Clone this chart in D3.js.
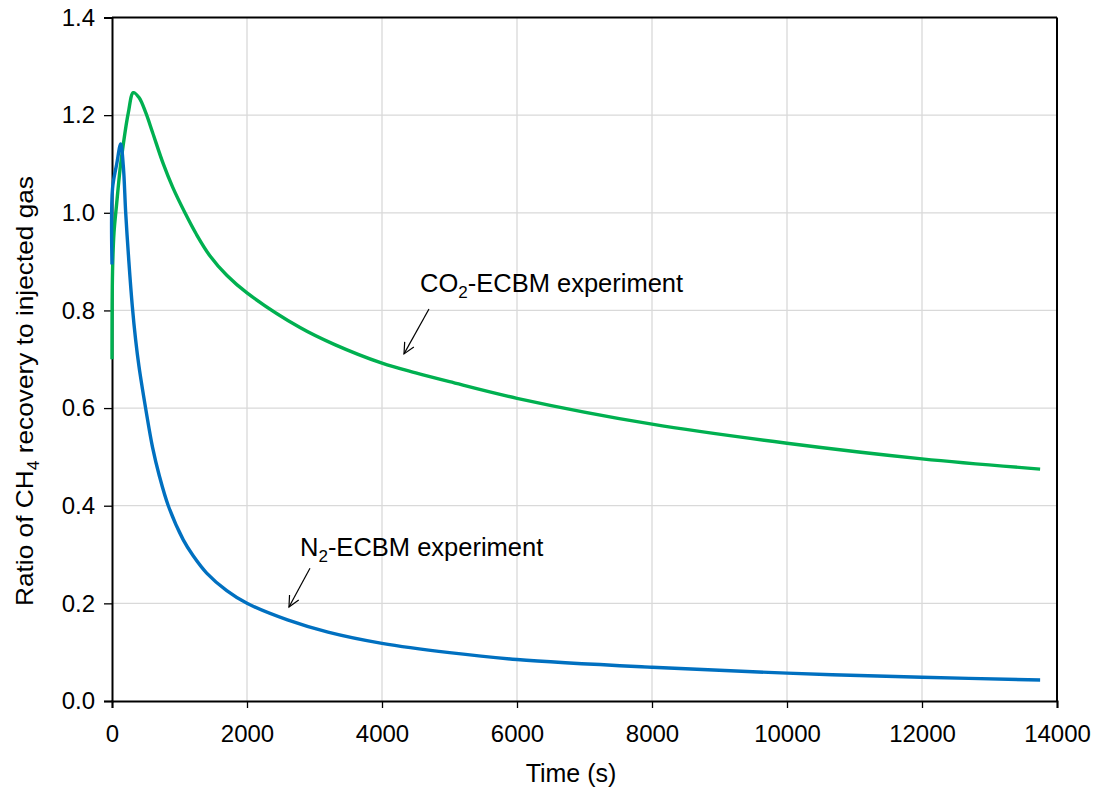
<!DOCTYPE html>
<html>
<head>
<meta charset="utf-8">
<script src="https://cdn.jsdelivr.net/npm/d3@7"></script>
<style>
  body { margin: 0; background: #fff; }
  text { font-family: "Liberation Sans", Arial, sans-serif; fill: #000; }
</style>
</head>
<body>
<div id="chart"></div>
<script>
// CO2-ECBM experiment (green)
var co2Time  = [0, 8, 30, 70, 120, 163, 242, 316, 400, 500, 600, 760, 900, 1081, 1250, 1450, 1700, 2000, 2785, 3300, 4000, 4500, 5000, 6000, 8000, 10000, 12000, 13750];
var co2Ratio = [0.70, 0.88, 0.96, 1.02, 1.09, 1.136, 1.205, 1.246, 1.236, 1.205, 1.165, 1.10, 1.052, 1.0, 0.956, 0.912, 0.872, 0.836, 0.765, 0.73, 0.692, 0.672, 0.654, 0.620, 0.567, 0.528, 0.496, 0.475];

// N2-ECBM experiment (blue)
var n2Time  = [0, 8, 70, 129, 168, 203, 250, 300, 350, 400, 450, 500, 600, 700, 834, 1056, 1200, 1403, 1700, 2000, 2600, 3200, 4000, 5000, 6000, 8000, 10000, 12000, 13750];
var n2Ratio = [0.894, 1.05, 1.10, 1.141, 1.095, 1.0, 0.90, 0.81, 0.74, 0.685, 0.64, 0.598, 0.52, 0.462, 0.40, 0.33, 0.298, 0.262, 0.226, 0.20, 0.166, 0.141, 0.118, 0.099, 0.085, 0.069, 0.057, 0.0486, 0.043];

var xTicks = [0, 2000, 4000, 6000, 8000, 10000, 12000, 14000];
var yTicks = [0, 0.2, 0.4, 0.6, 0.8, 1.0, 1.2, 1.4];

var width = 1099, height = 792;
var margin = {t:17.5, r:42, b:91, l:112};

var svg = d3.select("#chart").append("svg")
    .attr("width", width)
    .attr("height", height);

var x = d3.scaleLinear().domain([0, 14000]).range([margin.l, width - margin.r]);
var y = d3.scaleLinear().domain([0, 1.4]).range([height - margin.b, margin.t]);

// grid
svg.append("g").selectAll("line").data(xTicks.slice(1, -1)).enter().append("line")
    .attr("x1", function(d){ return x(d); }).attr("x2", function(d){ return x(d); })
    .attr("y1", y(0)).attr("y2", y(1.4))
    .attr("stroke", "#d9d9d9").attr("stroke-width", 1.3);
svg.append("g").selectAll("line").data(yTicks.slice(1, -1)).enter().append("line")
    .attr("x1", x(0)).attr("x2", x(14000))
    .attr("y1", function(d){ return y(d); }).attr("y2", function(d){ return y(d); })
    .attr("stroke", "#d9d9d9").attr("stroke-width", 1.3);

// axes
var xAxis = svg.append("g")
    .attr("transform", "translate(0," + y(0) + ")")
    .call(d3.axisBottom(x).tickValues(xTicks).tickSize(7).tickPadding(17).tickFormat(d3.format("d")));
var yAxis = svg.append("g")
    .attr("transform", "translate(" + x(0) + ",0)")
    .call(d3.axisLeft(y).tickValues(yTicks).tickSize(8).tickPadding(9).tickFormat(d3.format(".1f")));

[xAxis, yAxis].forEach(function(a){
    a.select(".domain").attr("stroke", "#000").attr("stroke-width", 2);
    a.selectAll(".tick line").attr("stroke", "#000").attr("stroke-width", 1.3);
    a.selectAll(".tick text").style("font-size", "24px").style("font-family", "Liberation Sans, Arial, sans-serif");
});

// frame top & right
svg.append("line").attr("x1", x(0)).attr("x2", x(14000)).attr("y1", y(1.4)).attr("y2", y(1.4))
    .attr("stroke", "#000").attr("stroke-width", 2);
svg.append("line").attr("x1", x(14000)).attr("x2", x(14000)).attr("y1", y(1.4)).attr("y2", y(0))
    .attr("stroke", "#000").attr("stroke-width", 2);

// lines
var line = d3.line()
    .x(function(d){ return x(d[0]); })
    .y(function(d){ return y(d[1]); })
    .curve(d3.curveCatmullRom.alpha(0.5));

svg.append("path").datum(d3.zip(co2Time, co2Ratio))
    .attr("d", line).attr("fill", "none")
    .attr("stroke", "#00B050").attr("stroke-width", 3.4);
svg.append("path").datum(d3.zip(n2Time, n2Ratio))
    .attr("d", line).attr("fill", "none")
    .attr("stroke", "#0070C0").attr("stroke-width", 3.4);

// axis titles
svg.append("text")
    .attr("x", 571).attr("y", 782)
    .attr("text-anchor", "middle").style("font-size", "25px")
    .text("Time (s)");

var yt = svg.append("text")
    .attr("transform", "translate(33,391) rotate(-90)")
    .attr("text-anchor", "middle").style("font-size", "24px")
    .attr("textLength", 430).attr("lengthAdjust", "spacingAndGlyphs");
yt.append("tspan").text("Ratio of CH");
yt.append("tspan").attr("dy", 6).style("font-size", "16px").text("4");
yt.append("tspan").attr("dy", -6).text(" recovery to injected gas");

// annotations
var notes = [
    {label: "CO", sub: "2", rest: "-ECBM experiment", tx: 4563, ty: 0.838, ax: 4696, ay: 0.803, bx: 4326, by: 0.711},
    {label: "N",  sub: "2", rest: "-ECBM experiment", tx: 2785, ty: 0.297, ax: 2933, ay: 0.272, bx: 2622, by: 0.1925}
];

notes.forEach(function(n){
    var t = svg.append("text").attr("x", x(n.tx)).attr("y", y(n.ty)).style("font-size", "25.5px");
    t.append("tspan").text(n.label);
    t.append("tspan").attr("dy", 6).style("font-size", "17px").text(n.sub);
    t.append("tspan").attr("dy", -6).text(n.rest);

    var x1 = x(n.ax), y1 = y(n.ay), x2 = x(n.bx), y2 = y(n.by);
    svg.append("line").attr("x1", x1).attr("y1", y1).attr("x2", x2).attr("y2", y2)
        .attr("stroke", "#000").attr("stroke-width", 1.2);
    var ang = Math.atan2(y2 - y1, x2 - x1), len = 12, spread = 0.45;
    var pts = [
        [x2 - len * Math.cos(ang - spread), y2 - len * Math.sin(ang - spread)],
        [x2, y2],
        [x2 - len * Math.cos(ang + spread), y2 - len * Math.sin(ang + spread)]
    ];
    svg.append("path").attr("d", d3.line()(pts))
        .attr("fill", "none").attr("stroke", "#000").attr("stroke-width", 1.2);
});
</script>
</body>
</html>
